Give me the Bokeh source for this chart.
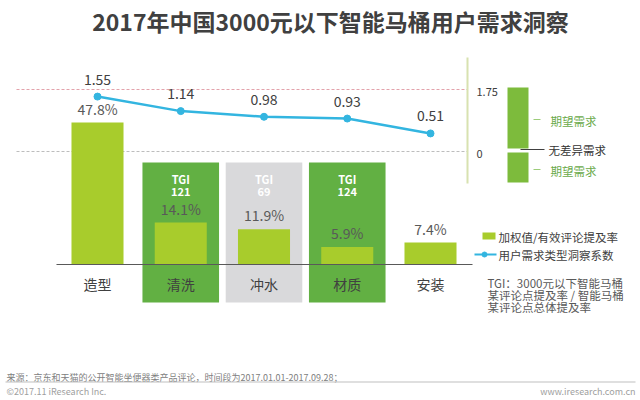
from bokeh.plotting import figure
from bokeh.models import Range1d, ColumnDataSource
from bokeh.core.properties import value
from bokeh.embed import file_html
from bokeh.resources import INLINE

# ---------------- data ----------------
categories = ["造型", "清洗", "冲水", "材质", "安装"]
mention_rate = [47.8, 14.1, 11.9, 5.9, 7.4]          # 加权值/有效评论提及率 (%)
insight_index = [1.55, 1.14, 0.98, 0.93, 0.51]       # 用户需求类型洞察系数
tgi = [None, 121, 69, 124, None]                      # TGI
idx_ticks = [1.75, 0.0]
idx_tick_labels = ["1.75", "0"]

title = "2017年中国3000元以下智能马桶用户需求洞察"
source_note = "来源：京东和天猫的公开智能坐便器类产品评论，时间段为2017.01.01-2017.09.28；"
tgi_note = ["TGI：3000元以下智能马桶", "某评论点提及率 / 智能马桶", "某评论点总体提及率"]

# ---------------- layout / style ----------------
W, H, M = 640, 400, 0
CAT0_PX, CAT_STEP = 97.0, 83.25
BASE_PX, PCT_PX = 264.0, 142.0 / 47.8
ZERO_PX, IDX_PX = 151.0, 62.0 / 1.75

def fx(px):
    return (px - CAT0_PX) / CAT_STEP

def fy(py):
    return (BASE_PX - py) / PCT_PX

def fi(py):
    return (ZERO_PX - py) / IDX_PX

FONT = value("Noto Sans CJK SC")
BAR = "#a8cc2c"
GREEN_BOX = "#62b043"
GRAY_BOX = "#d9d9db"
LINE = "#33b5e0"
DARK = "#404040"
MID = "#595959"

p = figure(width=W, height=H,
           x_range=Range1d(fx(M), fx(M + W)),
           y_range=Range1d(fy(M + H), fy(M)),
           output_backend="svg", toolbar_location=None,
           x_axis_location=None, y_axis_location=None,
           min_border=0, min_border_left=0, min_border_right=0,
           min_border_top=0, min_border_bottom=0)
p.extra_y_ranges = {"idx": Range1d(fi(M + H), fi(M))}
p.grid.visible = False
p.outline_line_color = None
p.background_fill_color = "white"
p.border_fill_color = "white"

xs = list(range(len(categories)))

# TGI highlight boxes
hx = [x for x, t in zip(xs, tgi) if t is not None]
ht = [t for t in tgi if t is not None]
hc = [GREEN_BOX if t >= 100 else GRAY_BOX for t in ht]
box_top, box_bottom = fy(162), fy(302)
p.quad(left=[x - 0.46 for x in hx], right=[x + 0.46 for x in hx],
       top=box_top, bottom=box_bottom, fill_color=hc, line_color=None)
p.text(x=hx, y=box_top, text=["TGI"] * len(hx), y_offset=16,
       text_align="center", text_baseline="middle", text_font=FONT,
       text_font_size="11px", text_font_style="bold", text_color="white")
p.text(x=hx, y=box_top, text=[str(t) for t in ht], y_offset=29,
       text_align="center", text_baseline="middle", text_font=FONT,
       text_font_size="11px", text_font_style="bold", text_color="white")

# dashed reference lines on the index scale
p.segment(x0=fx(16), x1=fx(467), y0=idx_ticks[0], y1=idx_ticks[0],
          y_range_name="idx", line_color="#e3a2ab", line_dash="3 2", line_width=1)
p.segment(x0=fx(16), x1=fx(467), y0=idx_ticks[1], y1=idx_ticks[1],
          y_range_name="idx", line_color="#bdbdbd", line_dash="3 2", line_width=1)

# bars
src = ColumnDataSource(dict(x=xs, rate=mention_rate, idx=insight_index,
                            cat=categories,
                            rate_lbl=[f"{v}%" for v in mention_rate],
                            idx_lbl=[f"{v:.2f}" for v in insight_index]))
p.vbar(x="x", top="rate", bottom=0, width=0.625, source=src,
       fill_color=BAR, line_color=None)
p.text(x="x", y="rate", text="rate_lbl", source=src, y_offset=-14,
       text_align="center", text_baseline="middle", text_font=FONT,
       text_font_size="14px", text_color=MID)

# baseline
p.segment(x0=fx(56), x1=fx(472), y0=0, y1=0, line_color=MID, line_width=1.2)

# category labels
p.text(x="x", y=fy(283), text="cat", source=src, text_align="center",
       text_baseline="middle", text_font=FONT, text_font_size="14px",
       text_color=DARK)

# insight line
p.line(x="x", y="idx", source=src, y_range_name="idx", line_color=LINE, line_width=2.5)
p.scatter(x="x", y="idx", source=src, y_range_name="idx", size=7,
          fill_color=LINE, line_color=LINE)
p.text(x="x", y="idx", text="idx_lbl", source=src, y_range_name="idx",
       y_offset=-17.5, text_align="center", text_baseline="middle",
       text_font=FONT, text_font_size="14px", text_color=DARK)

# right index scale
p.segment(x0=fx(467), x1=fx(467), y0=fy(57), y1=fy(183),
          line_color="#d8e2b0", line_width=2)
p.text(x=fx(476), y=idx_ticks, text=idx_tick_labels, y_range_name="idx",
       y_offset=2, text_align="left", text_baseline="middle", text_font=FONT,
       text_font_size="11px", text_color=DARK)
p.quad(left=fx(507), right=fx(528), top=[fy(87), fy(152)], bottom=[fy(148), fy(182)],
       fill_color="#7dbb3c", line_color=None)
p.segment(x0=fx(533), x1=fx(540), y0=[fy(119), fy(169)], y1=[fy(119), fy(169)],
          line_color="#9ccc7a", line_width=1)
p.segment(x0=fx(520), x1=fx(544), y0=fy(149), y1=fy(149), line_color=DARK, line_width=1)
p.text(x=fx(550), y=[fy(120), fy(170)], text=["期望需求", "期望需求"],
       text_align="left", text_baseline="middle", text_font=FONT,
       text_font_size="11.5px", text_color="#6aaa4a")
p.text(x=fx(548), y=fy(149), text=["无差异需求"], text_align="left",
       text_baseline="middle", text_font=FONT, text_font_size="11.5px",
       text_color="#333333")

# legend
p.quad(left=fx(482), right=fx(495), top=fy(232), bottom=fy(239),
       fill_color=BAR, line_color=None)
p.segment(x0=fx(474), x1=fx(496), y0=fy(254), y1=fy(254), line_color=LINE, line_width=2)
p.scatter(x=fx(484), y=fy(254), size=5, fill_color=LINE, line_color=LINE)
p.text(x=fx(498), y=[fy(236), fy(254)], text=["加权值/有效评论提及率", "用户需求类型洞察系数"],
       text_align="left", text_baseline="middle", text_font=FONT,
       text_font_size="11.5px", text_color=DARK)
p.text(x=fx(487), y=[fy(282), fy(294), fy(306)], text=tgi_note,
       text_align="left", text_baseline="middle", text_font=FONT,
       text_font_size="11.5px", text_color=MID)

# title
p.text(x=fx(330), y=fy(20), text=[title], text_align="center",
       text_baseline="middle", text_font=FONT, text_font_size="23px",
       text_font_style="bold", text_color=DARK)

# footer
p.text(x=fx(6), y=fy(377), text=[source_note], text_align="left",
       text_baseline="middle", text_font=FONT, text_font_size="9px",
       text_color="#808080")
p.segment(x0=fx(5), x1=fx(635), y0=fy(381.5), y1=fy(381.5), line_color="#bfbfbf", line_width=1)
p.text(x=fx(6), y=fy(391), text=["©2017.11 iResearch Inc."], text_align="left",
       text_baseline="middle", text_font=FONT, text_font_size="9px",
       text_color="#a0a0a0")
p.text(x=fx(635), y=fy(391), text=["www.iresearch.com.cn"], text_align="right",
       text_baseline="middle", text_font=FONT, text_font_size="9px",
       text_color="#a0a0a0")

open("out.html", "w").write(file_html(p, INLINE))
